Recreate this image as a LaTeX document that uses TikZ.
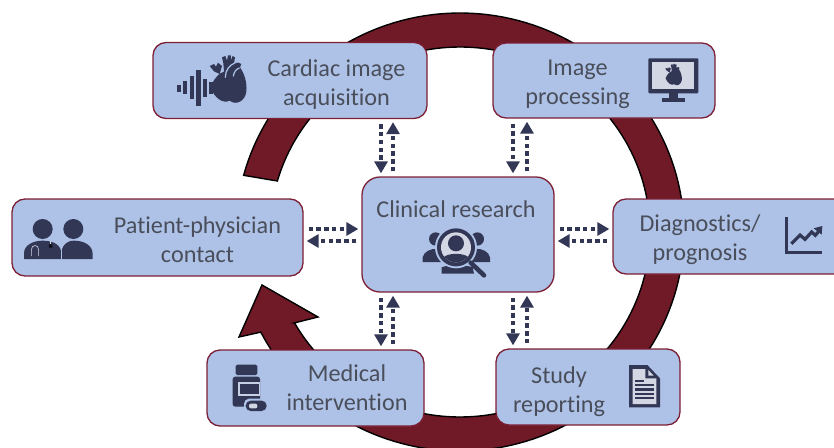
\documentclass[tikz,border=0pt]{standalone}
\usepackage{fontspec}
\setmainfont{Carlito}[Ligatures=CommonOff]
\usetikzlibrary{arrows.meta}
\definecolor{navy}{HTML}{333756}
\definecolor{boxfill}{HTML}{ADC2E6}
\definecolor{boxline}{HTML}{7D1F35}
\definecolor{ringfill}{HTML}{701A27}
\definecolor{txt}{HTML}{4A4E5B}
\definecolor{pale}{HTML}{D3D7E3}
\tikzset{
  box/.style={draw=boxline,fill=boxfill,line width=1.3pt,rounded corners=13pt,inner sep=0pt},
  lbl/.style={text=txt,align=center,font=\fontsize{24.2}{29}\selectfont,inner sep=0pt},
  flow/.style={draw=navy,line width=4.6pt,dash pattern=on 4.4pt off 3.4pt,
     -{Triangle[length=12pt,width=13pt]},shorten <=5pt,shorten >=3pt},
  heart/.pic={
    \fill[navy] (-53,22) .. controls (-42,-5) and (-25,-22) .. (-12,-25)
       -- (-14,-50) -- (-18,-68) -- (-8,-72) -- (-3,-58) -- (0,-74) -- (9,-74) -- (8,-58) -- (14,-72) -- (21,-68) -- (18,-50)
       .. controls (28,-52) and (36,-54) .. (40,-48) -- (36,-38) .. controls (48,-20) and (58,5) .. (55,35)
       .. controls (52,62) and (25,78) .. (5,62) .. controls (-15,72) and (-40,55) .. (-53,22) -- cycle;
    \fill[navy] (-25,-18) -- (-42,-26) -- (-55,-42) -- (-42,-48) -- (-36,-40) -- (-30,-52) -- (-18,-42) -- cycle;
    \draw[boxfill,line width=1.2pt,line cap=round] (-8,-8) .. controls (-8,-30) and (5,-45) .. (22,-52);
    \draw[boxfill,line width=1.2pt,line cap=round] (16,-12) .. controls (18,-24) and (24,-32) .. (34,-36);
  },
  smallheart/.pic={
    \fill[navy] (-53,22) .. controls (-42,-5) and (-25,-22) .. (-12,-25)
       -- (-14,-50) -- (-18,-68) -- (-8,-72) -- (-3,-58) -- (0,-74) -- (9,-74) -- (8,-58) -- (14,-72) -- (21,-68) -- (18,-50)
       .. controls (28,-52) and (36,-54) .. (40,-48) -- (36,-38) .. controls (48,-20) and (58,5) .. (55,35)
       .. controls (52,62) and (25,78) .. (5,62) .. controls (-15,72) and (-40,55) .. (-53,22) -- cycle;
    \fill[navy] (-25,-18) -- (-42,-26) -- (-55,-42) -- (-42,-48) -- (-36,-40) -- (-30,-52) -- (-18,-42) -- cycle;
  }
}
\begin{document}
\begin{tikzpicture}[x=1pt,y=-1pt]
\useasboundingbox (0,0) rectangle (834,447);
\clip (0,0) rectangle (834,447);
% cycle ring
\path[draw=black,fill=ringfill,line width=1.4pt,line join=miter]
  plot[domain=-165:152.8,samples=160] ({460+224*cos(\x)},{232+219*sin(\x)})
  -- (239,337) -- (262,285) -- (318,317) -- (294,323)
  -- plot[domain=150.5:-164,samples=160] ({460+190*cos(\x)},{232+185*sin(\x)}) -- cycle;
% boxes
\node[box,minimum width=274pt,minimum height=76pt] (cardiac) at (290,80.5) {};
\node[box,minimum width=222pt,minimum height=75pt] (imgproc) at (604,80.5) {};
\node[box,minimum width=291pt,minimum height=77pt] (patient) at (157.5,237.5) {};
\node[box,minimum width=192pt,minimum height=115pt,rounded corners=18pt] (clin) at (458,234.5) {};
\node[box,minimum width=237pt,minimum height=75pt] (diag) at (731.5,236.5) {};
\node[box,minimum width=217pt,minimum height=76pt] (medical) at (315.5,388) {};
\node[box,minimum width=184pt,minimum height=76pt] (study) at (588,387) {};
% labels
\node[lbl] (tcardiac) at (336.5,84.5) {Cardiac image\\acquisition};
\node[lbl] (timg) at (577.5,84.5) {Image\\processing};
\node[lbl] (tpatient) at (197.5,240) {Patient-physician\\contact};
\node[lbl] (tclin) at (456,209) {Clinical research};
\node[lbl] (tdiag) at (700,240) {Diagnostics/\\prognosis};
\node[lbl] (tmed) at (347,388) {Medical\\intervention};
\node[lbl] (tstudy) at (559,391.5) {Study\\reporting};
% guide coordinates for the paired connectors
\coordinate (xa) at (381,0); \coordinate (xb) at (393,0);
\coordinate (xc) at (513,0); \coordinate (xd) at (527,0);
\coordinate (ya) at (0,229); \coordinate (yb) at (0,241);
\draw[flow] (cardiac.south -| xa) -- (clin.north -| xa);
\draw[flow] (clin.north -| xb) -- (cardiac.south -| xb);
\draw[flow] (imgproc.south -| xc) -- (clin.north -| xc);
\draw[flow] (clin.north -| xd) -- (imgproc.south -| xd);
\draw[flow] (clin.south -| xa) -- (medical.north -| xa);
\draw[flow] (medical.north -| xb) -- (clin.south -| xb);
\draw[flow] (clin.south -| xc) -- (study.north -| xc);
\draw[flow] (study.north -| xd) -- (clin.south -| xd);
\draw[flow] (patient.east |- ya) -- (clin.west |- ya);
\draw[flow] (clin.west |- yb) -- (patient.east |- yb);
\draw[flow] (clin.east |- ya) -- (diag.west |- ya);
\draw[flow] (diag.west |- yb) -- (clin.east |- yb);
% cardiac icon
\begin{scope}[shift={(140,0)},scale=1/3]
  \fill[navy] (110,255) rectangle (122,275);
  \fill[navy] (130,243) rectangle (142,283);
  \fill[navy] (150,228) rectangle (162,298);
  \fill[navy] (169,210) rectangle (182,318);
  \fill[navy] (190,237) rectangle (202,290);
  \fill[navy] (208,245) rectangle (218,283);
\end{scope}
\pic[scale=1/3] at (228,80) {heart};
% monitor icon
\begin{scope}[shift={(490,30)},scale=1/3]
  \fill[navy,rounded corners=1pt] (475,85) rectangle (625,190);
  \fill[pale] (487,97) rectangle (613,178);
  \fill[navy] (537,188) rectangle (563,207);
  \fill[navy] (517,205) rectangle (585,215);
\end{scope}
\pic[scale=0.15] at (673.5,75) {smallheart};
% patient and physician icon
\begin{scope}[shift={(0,190)},scale=1/3]
  \fill[navy] (128,117) circle (30);
  \fill[navy] (220,117) circle (30);
  \fill[navy] (185,207) -- (185,180) .. controls (190,165) and (200,152) .. (222,152) .. controls (255,152) and (278,168) .. (278,192) -- (278,207) -- cycle;
  \fill[navy] (72,207) -- (72,190) .. controls (72,165) and (100,152) .. (128,152) .. controls (160,152) and (184,165) .. (184,190) -- (184,207) -- cycle;
  \draw[pale,line width=0.6pt] (94,198) -- (94,180) .. controls (94,162) and (116,162) .. (116,180) -- (116,198);
  \draw[pale,line width=0.5pt] (150,153) -- (150,165);
  \fill[black!70!navy] (152,168) circle (6);
  \draw[boxfill,line width=0.5pt] (184,170) -- (184,207);
\end{scope}
% clinical research icon
\begin{scope}[shift={(350,170)},scale=1/3]
  \fill[navy] (257,207) circle (20);
  \fill[navy] (382,207) circle (20);
  \fill[navy] (218,276) -- (218,262) .. controls (222,245) and (240,236) .. (262,236) -- (280,276) -- cycle;
  \fill[navy] (420,276) -- (420,262) .. controls (416,245) and (398,236) .. (376,236) -- (358,276) -- cycle;
  \fill[navy] (275,311) -- (275,292) .. controls (290,284) and (350,284) .. (368,292) -- (372,311) -- cycle;
  \fill[boxfill] (318,232) circle (63);
  \fill[navy] (318,232) circle (57);
  \fill[pale] (318,232) circle (45);
  \fill[navy] (318,220) circle (24);
  \begin{scope}
    \clip (318,232) circle (45);
    \fill[navy] (272,280) -- (280,262) .. controls (295,248) and (341,248) .. (356,262) -- (364,280) -- cycle;
  \end{scope}
  \draw[navy,line width=4.6pt,line cap=round] (362,278) -- (402,316);
\end{scope}
% pill bottle icon
\begin{scope}[shift={(200,280)},scale=1/3]
  \fill[navy,rounded corners=1.5pt] (107,254) rectangle (172,285);
  \fill[navy,rounded corners=2.5pt] (98,290) rectangle (180,380);
  \fill[pale!70!boxfill] (114,305) rectangle (180,347);
  \fill[navy] (119,311) rectangle (178,341);
  \fill[boxfill,rounded corners=5pt] (132,356) rectangle (205,398);
  \fill[navy,rounded corners=5pt] (137,362) rectangle (200,393);
  \fill[pale,rounded corners=2pt] (147,371) rectangle (172,385);
\end{scope}
% chart icon
\begin{scope}[shift={(490,190)},scale=1/3]
  \draw[navy,line width=3pt,line join=miter] (888,82) -- (888,187) -- (996,187);
  \draw[navy,line width=3.2pt,line join=miter] (904,161) -- (930,135) -- (945,148) -- (965,126) -- (976,136) -- (988,122);
  \fill[navy] (997,108) -- (995,134) -- (971,115) -- cycle;
\end{scope}
% document icon
\begin{scope}[shift={(490,190)},scale=1/3]
  \fill[navy] (417,525) -- (472,525) -- (510,565) -- (510,652) -- (417,652) -- cycle;
  \fill[pale] (428,537) -- (466,537) -- (466,565) -- (499,565) -- (499,642) -- (428,642) -- cycle;
  \fill[pale] (475,540) -- (491,557) -- (475,557) -- cycle;
  \fill[navy] (435,569) rectangle (462,576);
  \fill[navy] (435,582) rectangle (493,589);
  \fill[navy] (435,595) rectangle (493,602);
  \fill[navy] (435,608) rectangle (493,615);
  \fill[navy] (435,621) rectangle (493,628);
\end{scope}
\end{tikzpicture}
\end{document}
